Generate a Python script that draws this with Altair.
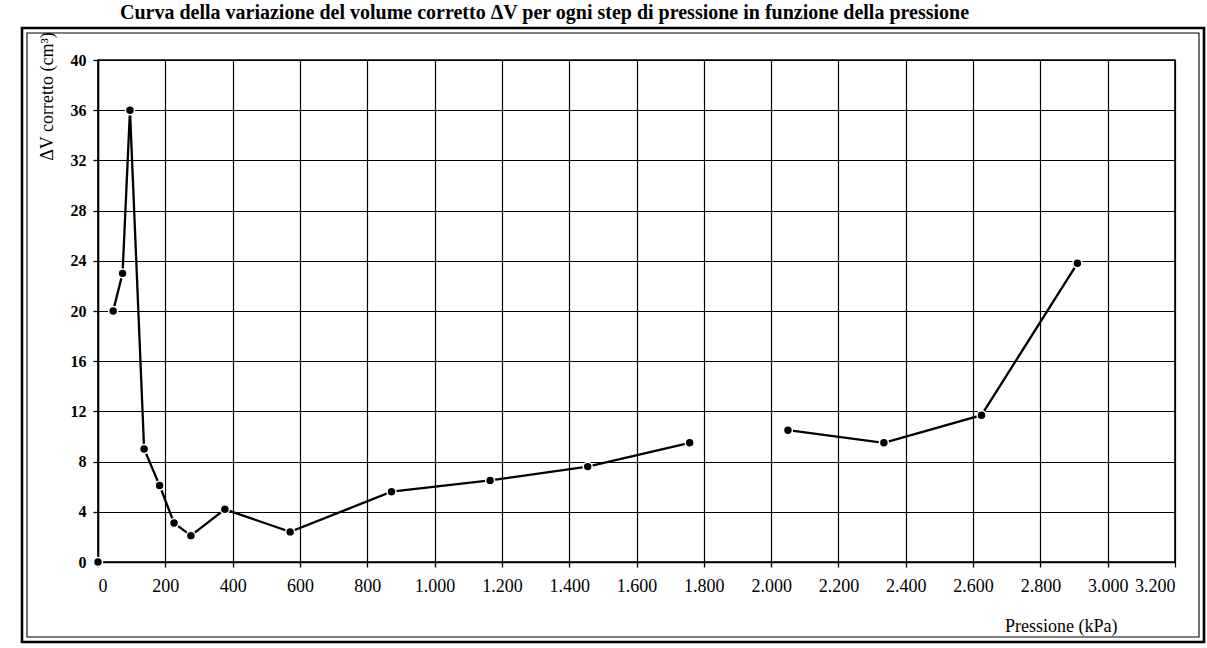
import altair as alt
import pandas as pd

# ---- data ----
pressione = [0, 45, 73, 95, 137, 183, 226, 276, 377, 571, 872, 1165, 1455, 1758, 2050, 2335, 2625, 2910]
delta_v = [0, 20, 23, 36, 9, 6.1, 3.1, 2.1, 4.2, 2.4, 5.6, 6.5, 7.6, 9.5, 10.5, 9.5, 11.7, 23.8]
tratto = [0, 1, 1, 1, 1, 1, 1, 1, 1, 1, 1, 1, 1, 1, 2, 2, 2, 2]

x_ticks = list(range(0, 3201, 200))
y_ticks = list(range(0, 41, 2))

title_text = "Curva della variazione del volume corretto \u0394V per ogni step di pressione in funzione della pressione"
y_title = "\u0394V corretto (cm\u00b3)"
x_title = "Pressione (kPa)"

FONT = "Liberation Serif"
W, H = 1077, 502

df = pd.DataFrame({"p": pressione, "dv": delta_v, "seg": tratto})
one = pd.DataFrame({"k": [0]})

x_enc = alt.X(
    "p:Q",
    scale=alt.Scale(domain=[0, 3200], nice=False, zero=False),
    axis=alt.Axis(
        values=x_ticks,
        title=x_title,
        labelExpr="replace(format(datum.value, ','), ',', '.')",
        labelFont=FONT, labelFontSize=18, labelFontWeight="normal",
        labelPadding=10, labelOverlap=False,
        titleFont=FONT, titleFontSize=18, titleFontWeight="normal",
        titleX=1019, titleY=69, titleAlign="right", titleBaseline="alphabetic",
    ),
)
y_enc = alt.Y(
    "dv:Q",
    scale=alt.Scale(domain=[0, 40], nice=False),
    axis=alt.Axis(
        values=y_ticks,
        title=y_title,
        labelExpr="datum.value % 4 === 0 ? datum.label : ''",
        tickOpacity={"condition": {"test": "datum.value % 4 === 0", "value": 1}, "value": 0},
        labelFont=FONT, labelFontSize=16, labelFontWeight="bold",
        labelPadding=7, labelOverlap=False,
        titleFont=FONT, titleFontSize=18, titleFontWeight="normal",
        titleAngle=270, titleX=-51, titleY=36, titleAlign="center", titleBaseline="middle",
    ),
)

frame_outer = alt.Chart(one).mark_rect(fillOpacity=0, stroke="black", strokeWidth=2.6).encode(
    x=alt.value(-76), x2=alt.value(1106), y=alt.value(-32), y2=alt.value(582)
)
frame_inner = alt.Chart(one).mark_rect(fillOpacity=0, stroke="black", strokeWidth=1.1).encode(
    x=alt.value(-71), x2=alt.value(1101), y=alt.value(-27), y2=alt.value(577)
)

line = alt.Chart(df).mark_line(color="black", strokeWidth=2.3).encode(
    x=x_enc, y=y_enc, detail="seg:N"
)
points = alt.Chart(df).mark_circle(
    fill="black", stroke="white", strokeWidth=1.5, size=80, opacity=1
).encode(x="p:Q", y="dv:Q")

chart = (
    alt.layer(frame_outer, frame_inner, line, points)
    .properties(
        width=W,
        height=H,
        autosize="none",
        padding={"left": 98, "top": 60, "right": 32, "bottom": 86},
        background="white",
        title=alt.Title(
            title_text, anchor="start", frame="group", dx=22, offset=4,
            font=FONT, fontSize=20, fontWeight="bold", color="black",
        ),
    )
    .configure_view(stroke="black", strokeWidth=1.6)
    .configure_axis(
        grid=True, gridColor="black", gridWidth=1.2, gridOpacity=1,
        domainColor="black", domainWidth=1.5,
        tickColor="black", tickSize=5, tickWidth=1.3,
        labelColor="black", titleColor="black",
    )
)

chart.save("out.html", embed_options={"renderer": "svg", "actions": False})
